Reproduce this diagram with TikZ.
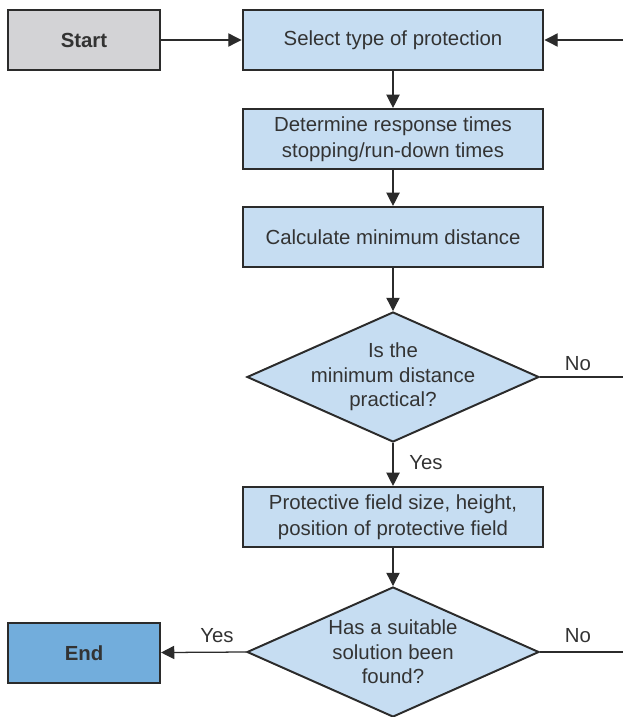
\documentclass[tikz,border=0pt]{standalone}
\usepackage{fontspec}
\setmainfont{Liberation Sans}
\usepackage{tikz}
\usetikzlibrary{positioning,shapes.geometric,arrows.meta}
\definecolor{BoxBlue}{HTML}{C6DDF2}
\definecolor{EndBlue}{HTML}{72ADDC}
\definecolor{StartGray}{HTML}{D3D3D6}
\definecolor{EdgeDark}{HTML}{2B2B2B}
\definecolor{TextDark}{HTML}{333333}
\tikzset{
  procnode/.style={draw=EdgeDark,fill=BoxBlue,line width=1.8pt,
    minimum width=7.51cm,minimum height=1.49cm,
    font=\fontsize{14.5}{18.5}\selectfont\color{TextDark},
    align=center,inner sep=2pt},
  termnode/.style={procnode,fill=StartGray,minimum width=3.79cm,
    font=\fontsize{14.5}{18.5}\selectfont\bfseries\color{TextDark}},
  endnode/.style={termnode,fill=EndBlue},
  decnode/.style={diamond,draw=EdgeDark,fill=BoxBlue,line width=1.4pt,
    minimum width=7.3cm,minimum height=3.25cm,inner sep=0pt},
  dectext/.style={font=\fontsize{14.5}{17.5}\selectfont\color{TextDark},
    align=center,inner sep=0pt},
  lbltext/.style={font=\fontsize{14.5}{17.5}\selectfont\color{TextDark},
    inner sep=0pt},
  flow/.style={line width=0.9pt,draw=EdgeDark,
    -{Triangle[length=0.33cm,width=0.33cm]}},
  plainline/.style={line width=0.9pt,draw=EdgeDark},
}

\begin{document}
\begin{tikzpicture}
  \useasboundingbox (0,0) rectangle (15.575,-17.925);
  % main column
  \node[termnode] (start) at (2.1,-1.0) {Start};
  \node[procnode] (sel) at (9.825,-1.0) {Select type of protection};
  \node[procnode] (det) at (9.825,-3.475) {Determine response times\\stopping/run-down times};
  \node[procnode] (calc) at (9.825,-5.925) {Calculate minimum distance};
  \node[decnode] (q1) at (9.825,-9.425) {};
  \node[dectext] (q1t) at (q1) {Is the\\minimum distance\\practical?};
  \node[procnode] (prot) at (9.825,-12.925) {Protective field size, height,\\position of protective field};
  \node[decnode] (q2) at (9.825,-16.3) {};
  \node[dectext] (q2t) at (q2) {Has a suitable\\solution been\\found?};
  \node[endnode] (end) at (2.1,-16.325) {End};
  % loop-back ends at the right edge
  \coordinate (loopin) at (15.575,-1.0);
  \coordinate (loopa) at (15.575,-9.425);
  \coordinate (loopb) at (15.575,-16.3);
  % labels
  \node[lbltext] (yes1) at (10.65,-11.575) {Yes};
  \node[lbltext] (no1) at (14.45,-9.1) {No};
  \node[lbltext] (yes2) at (5.425,-15.9) {Yes};
  \node[lbltext] (no2) at (14.45,-15.9) {No};
  % connectors
  \draw[flow] (start) -- (sel);
  \draw[flow] (loopin) -- (sel.east);
  \draw[flow] (sel) -- (det);
  \draw[flow] (det) -- (calc);
  \draw[flow] (calc) -- (q1.north);
  \draw[plainline] (q1.east) -- (loopa);
  \draw[flow] (q1.south) -- (prot);
  \draw[flow] (prot) -- (q2.north);
  \draw[flow] (q2.west) -- (end);
  \draw[plainline] (q2.east) -- (loopb);
\end{tikzpicture}
\end{document}
